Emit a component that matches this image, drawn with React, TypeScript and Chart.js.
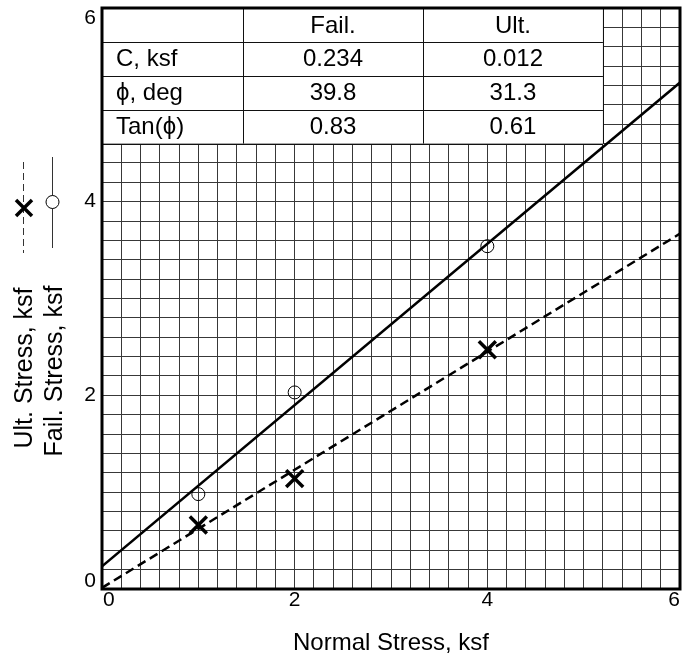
import React, { useEffect, useRef } from "react";
import { Chart, registerables } from "chart.js";

Chart.register(...registerables);

// ---- data ----
const failX = [1, 2, 4];
const failY = [0.98, 2.03, 3.54];
const ultX = [1, 2, 4];
const ultY = [0.66, 1.14, 2.47];
// fitted envelope lines (endpoints at x = 0 and x = 6)
const lineX = [0, 6];
const failLineY = [0.234, 5.23];
const ultLineY = [0.012, 3.67];

const xTickLabels = [0, 2, 4, 6];
const yTickLabels = [0, 2, 4, 6];

const tableHeaders = ["", "Fail.", "Ult."];
const rowLabels = ["C, ksf", "\u03D5, deg", "Tan(\u03D5)"];
const failParams = ["0.234", "39.8", "0.83"];
const ultParams = ["0.012", "31.3", "0.61"];

const xTitle = "Normal Stress, ksf";
const yTitleUlt = "Ult. Stress, ksf";
const yTitleFail = "Fail. Stress, ksf";

const FONT = '"Liberation Sans", Arial, Helvetica, sans-serif';

const pts = (xs: number[], ys: number[]) => xs.map((x, i) => ({ x, y: ys[i] }));

const tablePlugin = {
  id: "paramTable",
  beforeDatasetsDraw(chart: any) {
    const { ctx, scales } = chart;
    const xs = scales.x;
    const ys = scales.y;
    const left = xs.getPixelForValue(0);
    const right = xs.getPixelForValue(5.2);
    const top = ys.getPixelForValue(6);
    const bottom = ys.getPixelForValue(4.6);
    const w = right - left;
    const colW = [w * 0.2815, w * 0.3593, w * 0.3592];
    const rowH = (bottom - top) / 4;
    ctx.save();
    ctx.fillStyle = "#ffffff";
    ctx.fillRect(left, top, w, bottom - top);
    ctx.strokeStyle = "#111";
    ctx.lineWidth = 1;
    ctx.beginPath();
    for (let r = 1; r <= 4; r++) {
      const y = Math.round(top + r * rowH) + 0.5;
      ctx.moveTo(left, y);
      ctx.lineTo(right, y);
    }
    let cx = left;
    for (let c = 0; c < 3; c++) {
      cx += colW[c];
      const x = Math.round(cx) + 0.5;
      ctx.moveTo(x, top);
      ctx.lineTo(x, bottom);
    }
    ctx.stroke();

    ctx.fillStyle = "#000";
    ctx.font = `24px ${FONT}`;
    ctx.textBaseline = "middle";
    const c1 = left + colW[0] + colW[1] / 2;
    const c2 = left + colW[0] + colW[1] + colW[2] / 2;
    ctx.textAlign = "center";
    ctx.fillText(tableHeaders[1], c1, top + rowH / 2 + 1);
    ctx.fillText(tableHeaders[2], c2, top + rowH / 2 + 1);
    for (let r = 0; r < rowLabels.length; r++) {
      const y = top + (r + 1.5) * rowH + 1;
      ctx.textAlign = "left";
      ctx.fillText(rowLabels[r], left + 14, y);
      ctx.textAlign = "center";
      ctx.fillText(failParams[r], c1, y);
      ctx.fillText(ultParams[r], c2, y);
    }
    ctx.restore();
  },
};

const decorPlugin = {
  id: "decor",
  afterDraw(chart: any) {
    const { ctx, chartArea, scales } = chart;
    const xs = scales.x;
    const ys = scales.y;
    ctx.save();
    ctx.strokeStyle = "#000";
    ctx.lineWidth = 3;
    ctx.strokeRect(chartArea.left, chartArea.top, chartArea.right - chartArea.left, chartArea.bottom - chartArea.top);

    ctx.fillStyle = "#000";
    ctx.font = `21px ${FONT}`;
    ctx.textAlign = "right";
    yTickLabels.forEach((v, i) => {
      const p = ys.getPixelForValue(v);
      if (i === 0) {
        ctx.textBaseline = "bottom";
        ctx.fillText(String(v), chartArea.left - 6, p + 3);
      } else if (i === yTickLabels.length - 1) {
        ctx.textBaseline = "top";
        ctx.fillText(String(v), chartArea.left - 6, p);
      } else {
        ctx.textBaseline = "middle";
        ctx.fillText(String(v), chartArea.left - 6, p);
      }
    });
    ctx.textBaseline = "top";
    xTickLabels.forEach((v, i) => {
      const p = xs.getPixelForValue(v);
      ctx.textAlign = i === 0 ? "left" : i === xTickLabels.length - 1 ? "right" : "center";
      ctx.fillText(String(v), p + (i === 0 ? 1 : 0), chartArea.bottom + 1);
    });
    ctx.font = `24px ${FONT}`;
    ctx.textAlign = "center";
    ctx.textBaseline = "alphabetic";
    ctx.fillText(xTitle, (chartArea.left + chartArea.right) / 2, 650);

    const drawRot = (text: string, x: number, y: number) => {
      ctx.save();
      ctx.translate(x, y);
      ctx.rotate(-Math.PI / 2);
      ctx.textAlign = "center";
      ctx.textBaseline = "alphabetic";
      ctx.fillText(text, 0, 0);
      ctx.restore();
    };
    ctx.font = `25px ${FONT}`;
    drawRot(yTitleUlt, 32, 368);
    drawRot(yTitleFail, 62, 371);

    // legend symbols
    ctx.strokeStyle = "#333";
    ctx.lineWidth = 1;
    ctx.setLineDash([7, 4]);
    ctx.beginPath();
    ctx.moveTo(23.5, 162);
    ctx.lineTo(23.5, 253);
    ctx.stroke();
    ctx.setLineDash([]);
    ctx.beginPath();
    ctx.moveTo(52.5, 157);
    ctx.lineTo(52.5, 248);
    ctx.stroke();
    ctx.strokeStyle = "#000";
    ctx.lineWidth = 3.5;
    ctx.beginPath();
    ctx.moveTo(24 - 8, 208 - 8);
    ctx.lineTo(24 + 8, 208 + 8);
    ctx.moveTo(24 + 8, 208 - 8);
    ctx.lineTo(24 - 8, 208 + 8);
    ctx.stroke();
    ctx.lineWidth = 1;
    ctx.fillStyle = "#fff";
    ctx.beginPath();
    ctx.arc(52.5, 202, 6.5, 0, Math.PI * 2);
    ctx.fill();
    ctx.stroke();
    ctx.restore();
  },
};

export default function App() {
  const ref = useRef<HTMLCanvasElement | null>(null);
  useEffect(() => {
    document.body.style.margin = "0";
    const canvas = ref.current!;
    const gridOpts = {
      color: "#383838",
      lineWidth: 1,
      drawTicks: false,
      tickLength: 0,
    };
    const chart = new Chart(canvas, {
      type: "scatter",
      data: {
        datasets: [
          {
            label: "Fail. line",
            data: pts(lineX, failLineY),
            showLine: true,
            borderColor: "#000",
            borderWidth: 2.5,
            pointRadius: 0,
            order: 3,
          },
          {
            label: "Ult. line",
            data: pts(lineX, ultLineY),
            showLine: true,
            borderColor: "#000",
            borderWidth: 2.5,
            borderDash: [9, 5],
            pointRadius: 0,
            order: 4,
          },
          {
            label: "Fail.",
            data: pts(failX, failY),
            showLine: false,
            pointStyle: "circle",
            pointRadius: 6.5,
            borderColor: "#000",
            borderWidth: 1,
            backgroundColor: "rgba(0,0,0,0)",
            order: 1,
          },
          {
            label: "Ult.",
            data: pts(ultX, ultY),
            showLine: false,
            pointStyle: "crossRot",
            pointRadius: 12,
            borderColor: "#000",
            borderWidth: 3.5,
            order: 2,
          },
        ],
      },
      options: {
        animation: false,
        responsive: false,
        devicePixelRatio: 1,
        layout: { autoPadding: false, padding: { top: 8, right: 7, left: 0, bottom: 0 } },
        plugins: { legend: { display: false }, tooltip: { enabled: false } },
        scales: {
          x: {
            type: "linear",
            min: 0,
            max: 6,
            ticks: { stepSize: 0.2, display: false, autoSkip: false },
            grid: gridOpts,
            border: { display: false },
            afterFit: (s: any) => {
              s.height = 71;
            },
          },
          y: {
            type: "linear",
            min: 0,
            max: 6,
            ticks: { stepSize: 0.2, display: false, autoSkip: false },
            grid: gridOpts,
            border: { display: false },
            afterFit: (s: any) => {
              s.width = 102;
            },
          },
        },
      } as any,
      plugins: [tablePlugin, decorPlugin],
    });
    return () => chart.destroy();
  }, []);
  return (
    <div style={{ width: 687, height: 660, background: "#fff" }}>
      <canvas ref={ref} width={687} height={660} style={{ display: "block", width: 687, height: 660 }} />
    </div>
  );
}
